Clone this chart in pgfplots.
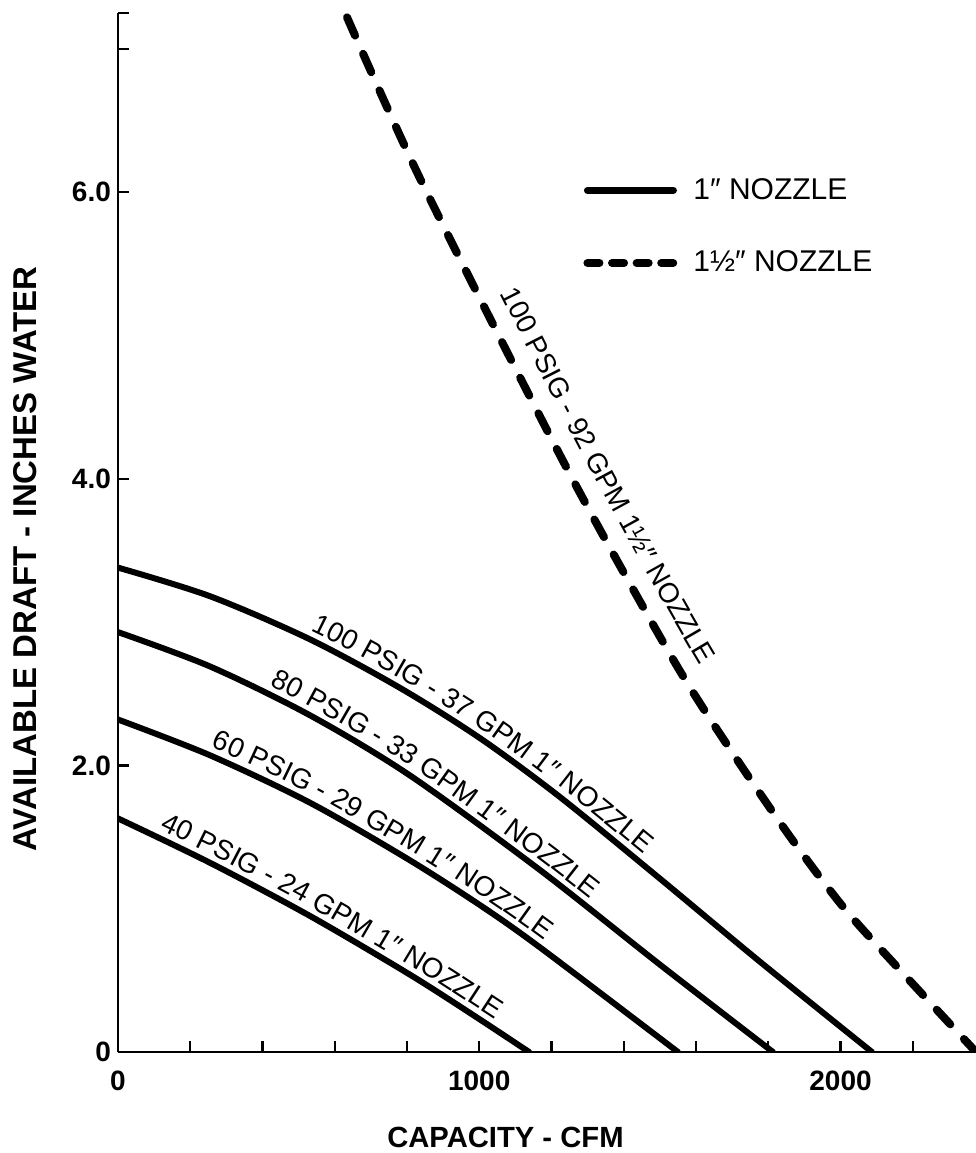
\documentclass[border=0pt]{standalone}
\usepackage{fontspec}
\setmainfont{Liberation Sans}
\usepackage{pgfplots}
\pgfplotsset{compat=1.18}
\usetikzlibrary{decorations.text}

\newcommand{\lblfont}{\fontsize{14}{14}\selectfont}

\begin{document}
\begin{tikzpicture}
\begin{axis}[
  scale only axis,
  width=429pt, height=519.5pt,
  xmin=0, xmax=2375, ymin=0, ymax=7.25,
  axis x line*=bottom, axis y line*=left,
  axis line style={line width=1.2pt},
  tick style={line width=1.2pt, black},
  tick align=inside,
  major tick length=5.5pt,
  xtick={0,200,...,2200},
  xticklabels={0,,,,,1000,,,,,2000,},
  ytick={0,2,4,6,7,7.25},
  yticklabels={0\hspace{4pt},2.0,4.0,6.0,,},
  ticklabel style={font=\fontsize{14}{14}\selectfont\bfseries},
  xticklabel style={yshift=-6pt},
  xlabel={CAPACITY - CFM},
  ylabel={AVAILABLE DRAFT - INCHES WATER},
  xlabel style={font=\fontsize{14.6}{14.6}\selectfont\bfseries, at={(rel axis cs:0.4516,-0.0818)}, anchor=center},
  ylabel style={font=\fontsize{16.5}{16.5}\selectfont\bfseries, at={(rel axis cs:-0.1084,0.4745)}, anchor=center},
  legend style={draw=none, fill=none, at={(rel axis cs:0.542,0.845)}, anchor=north west,
    font=\fontsize{15}{15}\selectfont, row sep=20.3pt, inner sep=0pt,
    /tikz/every odd column/.append style={column sep=6pt}},
  legend cell align=left,
  legend image code/.code={\draw[#1] (2pt,0pt) -- (45pt,0pt);},
]

% 1 inch nozzle, 100 psig
\addplot[forget plot, line width=3pt, line cap=round, smooth]
  coordinates {(0,3.38) (255,3.18) (531,2.88) (781,2.54) (1002,2.19)
               (1223,1.78) (1500,1.21) (1777,0.63) (2087,0)};
% 1 inch nozzle, 80 psig
\addplot[forget plot, line width=3pt, line cap=round, smooth]
  coordinates {(0,2.93) (255,2.69) (531,2.35) (808,1.93) (1168,1.27)
               (1500,0.61) (1813,0)};
% 1 inch nozzle, 60 psig
\addplot[forget plot, line width=3pt, line cap=round, smooth]
  coordinates {(0,2.32) (255,2.07) (531,1.74) (800,1.35) (999,1.03)
               (1168,0.73) (1550,0)};
% 1 inch nozzle, 40 psig
\addplot[forget plot, line width=3pt, line cap=round, smooth]
  coordinates {(0,1.63) (255,1.32) (531,0.95) (808,0.54) (994,0.24)
               (1138,0)};
% 1-1/2 inch nozzle, 100 psig
\addplot[forget plot, line width=4pt, line cap=round, dash pattern=on 10pt off 10pt, smooth]
  coordinates {(634,7.22) (837,6.09) (1169,4.43) (1335,3.64) (1548,2.69)
               (1695,2.11) (1861,1.50) (2008,1.01) (2158,0.59) (2375,0)};

\addlegendimage{line width=3.5pt, line cap=round}
\addlegendentry{1″ NOZZLE}
\addlegendimage{line width=4pt, line cap=round, dash pattern=on 6pt off 6.3pt}
\addlegendentry{1½″ NOZZLE}

% guide points for the curve captions
\coordinate (a1) at (axis cs:0,3.38);    \coordinate (a2) at (axis cs:255,3.18);
\coordinate (a3) at (axis cs:531,2.88);  \coordinate (a4) at (axis cs:781,2.54);
\coordinate (a5) at (axis cs:1002,2.19); \coordinate (a6) at (axis cs:1223,1.78);
\coordinate (a7) at (axis cs:1500,1.21); \coordinate (a8) at (axis cs:1777,0.63);
\coordinate (b1) at (axis cs:0,2.93);    \coordinate (b2) at (axis cs:255,2.69);
\coordinate (b3) at (axis cs:531,2.35);  \coordinate (b4) at (axis cs:808,1.93);
\coordinate (b5) at (axis cs:1168,1.27); \coordinate (b6) at (axis cs:1500,0.61);
\coordinate (b7) at (axis cs:1813,0);
\coordinate (c1) at (axis cs:0,2.32);    \coordinate (c2) at (axis cs:255,2.07);
\coordinate (c3) at (axis cs:531,1.74);  \coordinate (c4) at (axis cs:800,1.35);
\coordinate (c5) at (axis cs:999,1.03);  \coordinate (c6) at (axis cs:1168,0.73);
\coordinate (c7) at (axis cs:1550,0);
\coordinate (d1) at (axis cs:0,1.63);    \coordinate (d2) at (axis cs:255,1.32);
\coordinate (d3) at (axis cs:531,0.95);  \coordinate (d4) at (axis cs:808,0.54);
\coordinate (d5) at (axis cs:994,0.24);  \coordinate (d6) at (axis cs:1138,0);
\coordinate (d7) at (axis cs:1300,-0.27);
\coordinate (e1) at (axis cs:634,7.22);  \coordinate (e2) at (axis cs:837,6.09);
\coordinate (e3) at (axis cs:1169,4.43); \coordinate (e4) at (axis cs:1335,3.64);
\coordinate (e5) at (axis cs:1548,2.69); \coordinate (e6) at (axis cs:1695,2.11);
\coordinate (e7) at (axis cs:1861,1.50);

\coordinate (bbSW) at (rel axis cs:-0.1375,-0.0972);
\coordinate (bbNE) at (rel axis cs:1,1.0125);
\end{axis}

% captions written along the curves
\path[decorate, decoration={text along path, raise=4pt, text align={left indent=101pt},
    text={|\lblfont|100 PSIG - 37 GPM 1″ NOZZLE}}]
  plot[smooth] coordinates {(a1) (a2) (a3) (a4) (a5) (a6) (a7) (a8)};
\path[decorate, decoration={text along path, raise=4pt, text align={left indent=80pt},
    text={|\lblfont|80 PSIG - 33 GPM 1″ NOZZLE}}]
  plot[smooth] coordinates {(b1) (b2) (b3) (b4) (b5) (b6) (b7)};
\path[decorate, decoration={text along path, raise=4pt, text align={left indent=48pt},
    text={|\lblfont|60 PSIG - 29 GPM 1″ NOZZLE}}]
  plot[smooth] coordinates {(c1) (c2) (c3) (c4) (c5) (c6) (c7)};
\path[decorate, decoration={text along path, raise=4pt, text align={left indent=21pt},
    text={|\lblfont|40 PSIG - 24 GPM 1″ NOZZLE}}]
  plot[smooth] coordinates {(d1) (d2) (d3) (d4) (d5) (d6) (d7)};
\path[decorate, decoration={text along path, raise=10pt, text align={left indent=158pt},
    text={|\lblfont|100 PSIG - 92 GPM 1½″ NOZZLE}}]
  plot[smooth] coordinates {(e1) (e2) (e3) (e4) (e5) (e6) (e7)};

\pgfresetboundingbox
\useasboundingbox (bbSW) rectangle (bbNE);
\end{tikzpicture}
\end{document}
